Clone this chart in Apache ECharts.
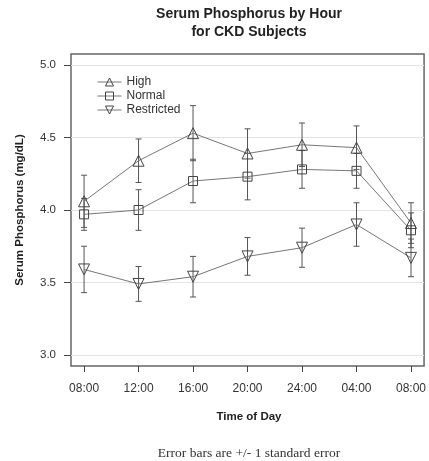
<!DOCTYPE html>
<html><head><meta charset="utf-8">
<script src="https://cdn.jsdelivr.net/npm/echarts@6/dist/echarts.min.js"></script>
<style>html,body{margin:0;padding:0;background:#fff}#c{width:429px;height:461px}</style>
</head><body><div id="c"></div>
<script>
const times = ['08:00','12:00','16:00','20:00','24:00','04:00','08:00'];
const high = [4.06, 4.34, 4.53, 4.39, 4.45, 4.43, 3.91];
const highSE = [0.18, 0.15, 0.19, 0.17, 0.15, 0.15, 0.14];
const normal = [3.97, 4.00, 4.20, 4.23, 4.28, 4.27, 3.86];
const normalSE = [0.11, 0.14, 0.15, 0.16, 0.13, 0.12, 0.12];
const restricted = [3.59, 3.49, 3.54, 3.68, 3.74, 3.90, 3.67];
const restrictedSE = [0.16, 0.12, 0.14, 0.13, 0.135, 0.15, 0.13];
const yTicks = [3.0, 3.5, 4.0, 4.5, 5.0];

const xPos = times.map((t, i) => i + 1);
const font = '"Liberation Sans", Arial, sans-serif';
const lineColor = '#777';
const barColor = '#555';
const markColor = '#444';
const clear = 'rgba(255,255,255,0)';

function pts(vals) { return vals.map((v, i) => [xPos[i], v]); }
function errs(vals, se) { return vals.map((v, i) => [xPos[i], v - se[i], v + se[i]]); }

function errRender(params, api) {
  const x = api.value(0), lo = api.value(1), hi = api.value(2);
  const p1 = api.coord([x, lo]), p2 = api.coord([x, hi]);
  const w = 3;
  const st = { stroke: barColor, lineWidth: 1 };
  return { type: 'group', children: [
    { type: 'line', shape: { x1: p1[0], y1: p1[1], x2: p2[0], y2: p2[1] }, style: st },
    { type: 'line', shape: { x1: p1[0] - w, y1: p1[1], x2: p1[0] + w, y2: p1[1] }, style: st },
    { type: 'line', shape: { x1: p2[0] - w, y1: p2[1], x2: p2[0] + w, y2: p2[1] }, style: st }
  ]};
}

function lineSeries(name, vals, symbol, size, rotate) {
  return {
    name, type: 'line', data: pts(vals), symbol, symbolSize: size, symbolRotate: rotate || 0,
    showAllSymbol: true, z: 3, color: markColor,
    lineStyle: { color: lineColor, width: 1 },
    itemStyle: { color: clear, borderColor: markColor, borderWidth: 1 }
  };
}
function errSeries(vals, se) {
  return { type: 'custom', data: errs(vals, se), renderItem: errRender, encode: { x: 0, y: [1, 2] }, z: 2, silent: true };
}

const chart = echarts.init(document.getElementById('c'), null, { renderer: 'canvas' });
chart.setOption({
  animation: false,
  backgroundColor: '#fff',
  textStyle: { fontFamily: font },
  grid: { left: 71, right: 1, top: 54, bottom: 95, show: true, borderColor: '#666', borderWidth: 1.5, backgroundColor: 'transparent' },
  graphic: [
    { type: 'text', x: 249, y: 7, style: { text: 'Serum Phosphorus by Hour', textAlign: 'center', font: 'bold 14px ' + font, fill: '#222' } },
    { type: 'text', x: 249, y: 25, style: { text: 'for CKD Subjects', textAlign: 'center', font: 'bold 14px ' + font, fill: '#222' } },
    { type: 'text', x: 249, y: 411, style: { text: 'Time of Day', textAlign: 'center', font: 'bold 11.5px ' + font, fill: '#222' } },
    { type: 'text', x: 249, y: 446, style: { text: 'Error bars are +/- 1 standard error', textAlign: 'center', font: '13.5px "Liberation Serif", "DejaVu Serif", serif', fill: '#333' } },
    { type: 'text', x: 20, y: 210, rotation: Math.PI / 2, style: { text: 'Serum Phosphorus (mg/dL)', textAlign: 'center', textVerticalAlign: 'middle', font: 'bold 11.5px ' + font, fill: '#222' } }
  ],
  legend: {
    data: ['High', 'Normal', 'Restricted'], orient: 'vertical', left: 92, top: 71,
    itemWidth: 24, itemHeight: 10, itemGap: 2,
    itemStyle: { color: clear, borderColor: markColor, borderWidth: 1 },
    lineStyle: { color: lineColor, width: 1 },
    textStyle: { fontFamily: font, fontSize: 12, color: '#333' }
  },
  xAxis: {
    type: 'value', min: 0.76, max: 7.24,
    axisLine: { show: false },
    axisTick: { show: true, customValues: xPos, length: 6, lineStyle: { color: '#444' } },
    axisLabel: { customValues: xPos, formatter: v => times[Math.round(v) - 1], margin: 17, fontFamily: font, fontSize: 12, color: '#333' },
    splitLine: { show: false }
  },
  yAxis: {
    type: 'value', min: 2.924, max: 5.076,
    axisLine: { show: false },
    axisTick: { show: true, customValues: yTicks, length: 7, lineStyle: { color: '#444' } },
    axisLabel: { customValues: yTicks, formatter: v => v.toFixed(1), margin: 15, fontFamily: font, fontSize: 11.5, color: '#333' },
    splitLine: { show: true, lineStyle: { color: '#e4e4e4', width: 1 } }
  },
  series: [
    errSeries(high, highSE), errSeries(normal, normalSE), errSeries(restricted, restrictedSE),
    lineSeries('High', high, 'triangle', 11),
    lineSeries('Normal', normal, 'rect', 9),
    lineSeries('Restricted', restricted, 'triangle', 11, 180)
  ]
});
</script></body></html>
